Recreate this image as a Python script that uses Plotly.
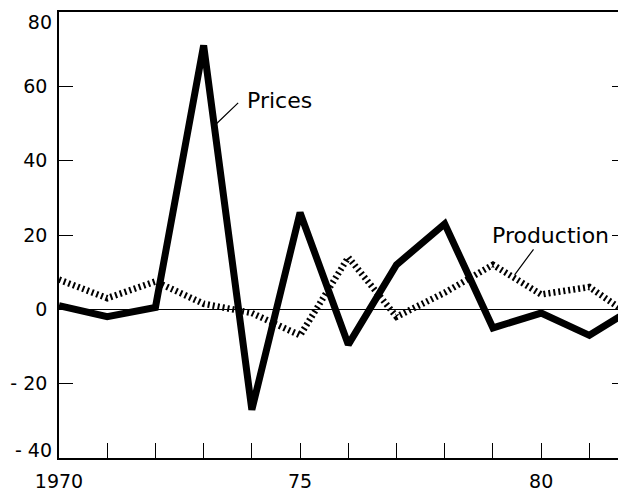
import plotly.graph_objects as go

years = list(range(1970, 1983))
prices = [1, -2, 0.5, 71, -27, 26, -9.5, 12, 23, -5, -1, -7, 1]
production = [8, 3, 7.5, 1.5, -1, -7, 14, -2, 4.5, 12, 4, 6, -3]

x_tickvals = list(range(1970, 1982))
x_ticktext = ["1970", "", "", "", "", "75", "", "", "", "", "80", ""]
y_tickvals = [-40, -20, 0, 20, 40, 60, 80]
y_ticktext = ["", "- 20", "0", "20", "40", "60", ""]
# end labels sit a little inside the frame in the original
y_end_tickvals = [-37.85, 77.3]
y_end_ticktext = ["- 40", "80"]

FONT = "DejaVu Sans"

fig = go.Figure()
fig.add_trace(go.Scatter(
    x=years, y=production, mode="lines",
    line=dict(color="black", width=6.5, dash="2px,3px"),
    showlegend=False, hoverinfo="skip",
))
fig.add_trace(go.Scatter(
    x=years, y=prices, mode="lines",
    line=dict(color="black", width=7),
    showlegend=False, hoverinfo="skip",
))
# empty trace so the overlay axis carrying the end labels is drawn
fig.add_trace(go.Scatter(x=[None], y=[None], yaxis="y2", mode="lines",
                         showlegend=False, hoverinfo="skip"))

# text labels
fig.add_annotation(x=1973.86, y=56.1, text="Prices", showarrow=False,
                   xanchor="left", yanchor="middle",
                   font=dict(family=FONT, size=22, color="black"))
fig.add_annotation(x=1978.94, y=19.9, text="Production", showarrow=False,
                   xanchor="left", yanchor="middle",
                   font=dict(family=FONT, size=22, color="black"))
# leader lines
fig.add_annotation(x=1973.27, y=50, text="", showarrow=True, arrowhead=0,
                   arrowwidth=1.2, arrowcolor="black", ax=23, ay=-22,
                   standoff=0, startstandoff=0)
fig.add_annotation(x=1979.45, y=9.3, text="", showarrow=True, arrowhead=0,
                   arrowwidth=1.2, arrowcolor="black", ax=20, ay=-27,
                   standoff=0, startstandoff=0)

tickfont = dict(family=FONT, size=19, color="black")

# page body has an 8px default margin, so the figure is sized to fit the window
fig.update_layout(
    width=618, height=483,
    margin=dict(l=51, r=0, t=4, b=33, autoexpand=False),
    paper_bgcolor="white", plot_bgcolor="white",
    font=dict(family=FONT, size=19, color="black"),
    xaxis=dict(
        range=[1970, 1981.76], tickmode="array",
        tickvals=x_tickvals, ticktext=x_ticktext,
        ticks="inside", ticklen=15, tickwidth=1.2, tickcolor="black",
        showline=True, linecolor="black", linewidth=1.5, mirror=True,
        showgrid=False, zeroline=False, ticklabelstandoff=5, automargin=False,
        tickfont=tickfont,
    ),
    yaxis=dict(
        range=[-40, 80], tickmode="array",
        tickvals=y_tickvals, ticktext=y_ticktext,
        ticks="inside", ticklen=14, tickwidth=1.2, tickcolor="black",
        showline=True, linecolor="black", linewidth=1.5, mirror="ticks",
        showgrid=False, zeroline=True, zerolinecolor="black", zerolinewidth=1,
        ticklabelstandoff=6, automargin=False,
        tickfont=tickfont,
    ),
    yaxis2=dict(
        range=[-40, 80], overlaying="y", side="left", anchor="x",
        tickmode="array", tickvals=y_end_tickvals, ticktext=y_end_ticktext,
        ticks="", showline=False, showgrid=False, zeroline=False,
        ticklabelstandoff=6, automargin=False, tickfont=tickfont,
    ),
)

fig.write_html("out.html")
